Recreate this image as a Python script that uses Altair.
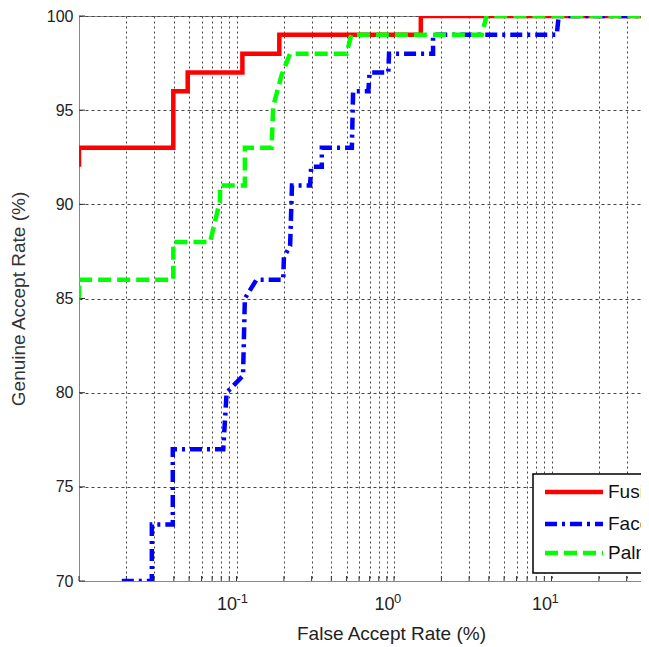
import altair as alt
import pandas as pd

# ---------------- data ----------------
fusion_far = [0.01, 0.01, 0.0397, 0.0397, 0.049, 0.049, 0.109, 0.109, 0.187, 0.187, 1.48, 1.48, 100]
fusion_gar = [92, 93, 93, 96, 96, 97, 97, 98, 98, 99, 99, 100, 100]

face_far = [0.0187, 0.029, 0.029, 0.0394, 0.0394, 0.0824, 0.0865, 0.110, 0.113, 0.134, 0.198,
            0.200, 0.219, 0.225, 0.293, 0.298, 0.348, 0.348, 0.54, 0.55, 0.687, 0.70, 0.92,
            0.93, 1.77, 1.77, 10.8, 11.1, 100]
face_gar = [70, 70, 73, 73, 77, 77, 80, 80.9, 85, 86, 86,
            87.2, 87.8, 91, 91, 92, 92, 93, 93, 96, 96, 97, 97,
            98, 98, 99, 99, 100, 100]

palm_far = [0.01, 0.01, 0.0397, 0.0397, 0.068, 0.0786, 0.0786, 0.113, 0.113, 0.167, 0.171,
            0.194, 0.219, 0.50, 0.535, 3.6, 3.87, 100]
palm_gar = [85, 86, 86, 88, 88, 90.2, 91, 91, 93, 93, 95.2,
            96.9, 98, 98, 99, 99, 100, 100]

series_names = ["Fusion", "Face", "Palm"]
series_colors = ["#ff0000", "#0000ff", "#00ff00"]
series_dashes = [[1, 0], [12, 5, 3, 5], [13, 6]]

y_ticks = [70, 75, 80, 85, 90, 95, 100]
decades = [0.1, 1, 10]
decade_exponents = ["-1", "0", "1"]

x_min, x_max = 0.01, 37.0
x_ticks = [round(k * 10 ** e, 6) for e in (-2, -1, 0, 1) for k in range(1, 10)]
x_ticks = [t for t in x_ticks if x_min <= t <= x_max]

# ---------------- layout ----------------
W, H = 562, 565
FONT = "Liberation Sans"

xscale = alt.Scale(type="log", domain=[x_min, x_max], nice=False)
yscale = alt.Scale(domain=[70, 100], nice=False, zero=False)

xaxis = alt.Axis(
    values=x_ticks, grid=True, gridDash=[2, 3], gridColor="#444", gridWidth=1,
    ticks=False, domainColor="#888", domainWidth=1,
    labelExpr="(datum.value > 0.05 && abs(log(datum.value)/LN10 - round(log(datum.value)/LN10)) < 1e-6) ? '10' : ''",
    labelAlign="right", labelBaseline="top", labelPadding=14, labelFontSize=18,
    labelColor="#222", labelOverlap=False, labelFlush=False, labelBound=False,
    title="False Accept Rate (%)", titleFontSize=19, titleFontWeight="normal",
    titleColor="#222", titleX=312, titleY=52, titleAlign="center", titleBaseline="middle",
)
yaxis = alt.Axis(
    values=y_ticks, grid=True, gridDash=[3, 3], gridColor="#444", gridWidth=1,
    ticks=False, domainColor="#888", domainWidth=1,
    labelPadding=6, labelFontSize=16, labelColor="#222",
    title="Genuine Accept Rate (%)", titleFontSize=19, titleFontWeight="normal",
    titleColor="#333", titleX=-61, titleY=H / 2, titleAlign="center", titleBaseline="middle",
)

def series_df(name, xs, ys):
    return pd.DataFrame({"series": name, "far": xs, "gar": ys, "order": range(len(xs))})

frames = [series_df("Fusion", fusion_far, fusion_gar),
          series_df("Face", face_far, face_gar),
          series_df("Palm", palm_far, palm_gar)]

layers = []
base = alt.Chart(frames[0]).mark_point(opacity=0).encode(
    x=alt.X("far:Q", scale=xscale, axis=xaxis),
    y=alt.Y("gar:Q", scale=yscale, axis=yaxis),
)
layers.append(base)

# inward ticks
tick_df = pd.DataFrame({"t": x_ticks})
layers.append(alt.Chart(tick_df).mark_rule(color="#333", strokeWidth=1).encode(
    x=alt.X("t:Q", scale=xscale), y=alt.value(H), y2=alt.value(H - 5)))
ytick_df = pd.DataFrame({"t": y_ticks})
layers.append(alt.Chart(ytick_df).mark_rule(color="#333", strokeWidth=1).encode(
    y=alt.Y("t:Q", scale=yscale), x=alt.value(0), x2=alt.value(6)))

# curves: Fusion, Face, Palm (Palm on top)
for df, col, dash in zip(frames, series_colors, series_dashes):
    layers.append(alt.Chart(df).mark_line(
        color=col, strokeWidth=4.5, strokeDash=dash, clip=True, strokeCap="butt",
        strokeJoin="miter", interpolate="linear").encode(
        x=alt.X("far:Q", scale=xscale),
        y=alt.Y("gar:Q", scale=yscale),
        order="order:Q"))

# exponents of the decade labels
exp_df = pd.DataFrame({"d": decades, "e": decade_exponents})
layers.append(alt.Chart(exp_df).mark_text(
    align="left", baseline="middle", fontSize=13, font=FONT, color="#222", dy=18, dx=0).encode(
    x=alt.X("d:Q", scale=xscale), y=alt.value(H), text="e:N"))

# legend box (clipped by the plot edge as in the reference)
one = pd.DataFrame({"k": [0]})
layers.append(alt.Chart(one).mark_rect(fill="white", stroke="black", strokeWidth=1.5, clip=True).encode(
    x=alt.value(454), x2=alt.value(640), y=alt.value(458), y2=alt.value(557)))
row_y = [476, 508, 537]
for name, col, dash, yy in zip(series_names, series_colors, series_dashes, row_y):
    layers.append(alt.Chart(one).mark_rule(color=col, strokeWidth=4.5, strokeDash=dash,
                                           strokeCap="butt", clip=True).encode(
        x=alt.value(466), x2=alt.value(524), y=alt.value(yy)))
    layers.append(alt.Chart(pd.DataFrame({"label": [name]})).mark_text(
        align="left", baseline="middle", fontSize=19, font=FONT, color="#111", clip=True).encode(
        x=alt.value(529), y=alt.value(yy), text="label:N"))

chart = alt.layer(*layers).properties(
    width=W, height=H,
    padding={"left": 71, "top": 8, "right": 0, "bottom": 66},
    autosize=alt.AutoSizeParams(type="none"),
).configure(font=FONT).configure_view(stroke="#888", strokeWidth=1)

chart.save("out.html", embed_options={"renderer": "svg", "actions": False})
